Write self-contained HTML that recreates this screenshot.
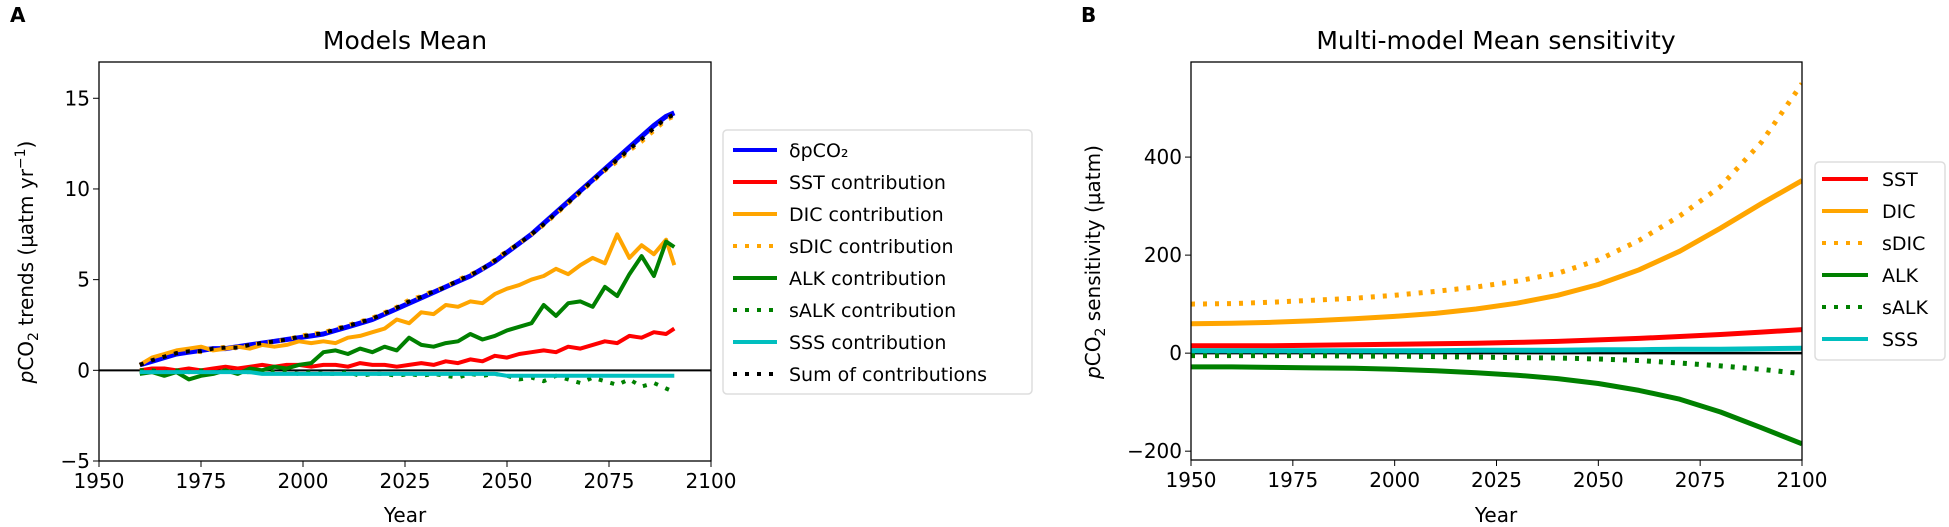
<!DOCTYPE html>
<html><head><meta charset="utf-8"><style>
html,body{margin:0;padding:0;background:#fff;}
svg{display:block;font-family:"DejaVu Sans","Liberation Sans",sans-serif;}
</style></head><body>
<svg id="c" width="1949" height="527" viewBox="0 0 1949 527" xmlns="http://www.w3.org/2000/svg">
<text x="10" y="22" font-size="20" font-weight="bold">A</text>
<text x="1081" y="22" font-size="20" font-weight="bold">B</text>
<text x="405" y="49" font-size="25" text-anchor="middle">Models Mean</text>
<text x="1496" y="49" font-size="25" text-anchor="middle">Multi-model Mean sensitivity</text>
<g id="ga"></g>
<g id="gb"></g>
<text x="405" y="522" font-size="20" text-anchor="middle">Year</text>
<text x="1496" y="522" font-size="20" text-anchor="middle">Year</text>
<text transform="translate(33,262) rotate(-90)" font-size="20" text-anchor="middle"><tspan font-style="italic">p</tspan>CO<tspan font-size="14" dy="5">2</tspan><tspan dy="-5"> trends (µatm yr</tspan><tspan font-size="14" dy="-8">−1</tspan><tspan dy="8">)</tspan></text>
<text transform="translate(1100,262) rotate(-90)" font-size="20" text-anchor="middle"><tspan font-style="italic">p</tspan>CO<tspan font-size="14" dy="5">2</tspan><tspan dy="-5"> sensitivity (µatm)</tspan></text>
</svg>
<script>
// Panel A data (years 1960..2091 step 3)
const yearsA = [1960,1963,1966,1969,1972,1975,1978,1981,1984,1987,1990,1993,1996,1999,2002,2005,2008,2011,2014,2017,2020,2023,2026,2029,2032,2035,2038,2041,2044,2047,2050,2053,2056,2059,2062,2065,2068,2071,2074,2077,2080,2083,2086,2089,2091];
const dpco2 = [0.3,0.5,0.7,0.9,1.0,1.1,1.2,1.2,1.3,1.4,1.5,1.6,1.7,1.8,1.9,2.0,2.2,2.4,2.6,2.8,3.1,3.4,3.7,4.0,4.3,4.6,4.9,5.2,5.6,6.0,6.5,7.0,7.5,8.1,8.7,9.3,9.9,10.5,11.1,11.7,12.3,12.9,13.5,14.0,14.2];
const sstA = [0.0,0.1,0.1,0.0,0.1,0.0,0.1,0.2,0.1,0.2,0.3,0.2,0.3,0.3,0.2,0.3,0.3,0.2,0.4,0.3,0.3,0.2,0.3,0.4,0.3,0.5,0.4,0.6,0.5,0.8,0.7,0.9,1.0,1.1,1.0,1.3,1.2,1.4,1.6,1.5,1.9,1.8,2.1,2.0,2.3];
const dicA = [0.3,0.7,0.9,1.1,1.2,1.3,1.1,1.2,1.3,1.2,1.4,1.3,1.4,1.6,1.5,1.6,1.5,1.8,1.9,2.1,2.3,2.8,2.6,3.2,3.1,3.6,3.5,3.8,3.7,4.2,4.5,4.7,5.0,5.2,5.6,5.3,5.8,6.2,5.9,7.5,6.2,6.9,6.4,7.2,5.8];
const sdicA = [0.3,0.6,0.8,1.0,1.1,1.0,1.2,1.3,1.2,1.4,1.5,1.6,1.7,1.9,2.0,2.1,2.3,2.5,2.7,2.9,3.2,3.5,3.9,4.1,4.4,4.6,5.0,5.3,5.6,6.1,6.6,7.0,7.5,8.0,8.6,9.2,9.8,10.4,11.0,11.5,12.1,12.6,13.2,13.8,14.0];
const alkA = [-0.2,-0.1,-0.3,-0.1,-0.5,-0.3,-0.2,0.0,-0.2,0.1,0.0,0.2,0.1,0.3,0.4,1.0,1.1,0.9,1.2,1.0,1.3,1.1,1.8,1.4,1.3,1.5,1.6,2.0,1.7,1.9,2.2,2.4,2.6,3.6,3.0,3.7,3.8,3.5,4.6,4.1,5.3,6.3,5.2,7.1,6.8];
const salkA = [0.0,0.0,-0.1,0.0,-0.1,0.0,-0.1,0.0,-0.1,-0.1,0.0,-0.1,-0.1,-0.2,-0.1,-0.2,-0.2,-0.1,-0.3,-0.2,-0.2,-0.3,-0.2,-0.3,-0.2,-0.3,-0.4,-0.2,-0.3,-0.2,-0.3,-0.5,-0.4,-0.6,-0.3,-0.5,-0.7,-0.4,-0.6,-0.8,-0.5,-0.9,-0.7,-1.0,-1.2];
const sssA = [-0.1,-0.1,-0.1,-0.1,-0.1,-0.1,-0.1,-0.1,-0.1,-0.1,-0.2,-0.2,-0.2,-0.2,-0.2,-0.2,-0.2,-0.2,-0.2,-0.2,-0.2,-0.2,-0.2,-0.2,-0.2,-0.2,-0.2,-0.2,-0.2,-0.2,-0.3,-0.3,-0.3,-0.3,-0.3,-0.3,-0.3,-0.3,-0.3,-0.3,-0.3,-0.3,-0.3,-0.3,-0.3];
const ticksAx = [1950,1975,2000,2025,2050,2075,2100];
const ticksAy = [-5,0,5,10,15];
const labelsAy = ["−5","0","5","10","15"];

// Panel B data (years 1950..2100 step 10)
const yearsB = [1950,1960,1970,1980,1990,2000,2010,2020,2030,2040,2050,2060,2070,2080,2090,2100];
const sstB = [15,15,15,16,17,18,19,20,22,24,27,30,34,38,43,48];
const dicB = [60,61,63,66,70,75,81,90,102,118,140,170,208,255,305,352];
const sdicB = [100,101,104,108,112,118,126,135,147,163,190,230,280,340,430,550];
const alkB = [-28,-28,-29,-30,-31,-33,-36,-40,-45,-52,-62,-76,-94,-120,-152,-185];
const salkB = [-5,-5,-5,-5,-6,-6,-7,-8,-9,-10,-12,-15,-20,-26,-33,-42];
const sssB = [5,5,5,5,5,5,5,6,6,6,7,7,8,8,9,10];
const ticksBx = [1950,1975,2000,2025,2050,2075,2100];
const ticksBy = [-200,0,200,400];
const labelsBy = ["−200","0","200","400"];

const NS="http://www.w3.org/2000/svg";
function mk(tag,attrs,parent){const e=document.createElementNS(NS,tag);for(const k in attrs)e.setAttribute(k,attrs[k]);parent.appendChild(e);return e;}
function pathD(xs,ys,fx,fy){return xs.map((x,i)=>(i?'L':'M')+fx(x).toFixed(1)+','+fy(ys[i]).toFixed(1)).join(' ');}

// Panel A
const ga=document.getElementById('ga');
const AL=99,AR=711,AT=62,AB=461;
const xA=v=>AL+(v-1950)/150*(AR-AL);
const yA=v=>AT+(17-v)/22*(AB-AT);
const clipA=mk('clipPath',{id:'clA'},ga); mk('rect',{x:AL,y:AT,width:AR-AL,height:AB-AT},clipA);
const la=mk('g',{'clip-path':'url(#clA)'},ga);
let ln=mk('line',{x1:AL,x2:AR,y1:yA(0),y2:yA(0),stroke:'#000','stroke-width':2},la);


const seriesA=[
 [dpco2,'#0000ff',5,null,'series-dpco2'],
 [sstA,'#ff0000',4,null,'series-sst-contribution'],
 [dicA,'#ffa500',4,null,'series-dic-contribution'],
 [sdicA,'#ffa500',4,'4 8','series-sdic-contribution'],
 [alkA,'#008000',4,null,'series-alk-contribution'],
 [salkA,'#008000',4,'4 8','series-salk-contribution'],
 [sssA,'#00bfbf',4,null,'series-sss-contribution'],
 [dpco2.map((v,i)=>(v+sdicA[i])/2),'#000',4,'4 8','series-sum-of-contributions']
];
seriesA.forEach(s=>{
 const p=mk('path',{d:pathD(yearsA,s[0],xA,yA),fill:'none',stroke:s[1],'stroke-width':s[2],'stroke-linejoin':'round'},la);
 if(s[3])p.setAttribute('stroke-dasharray',s[3]);
 
 
});
mk('rect',{x:AL,y:AT,width:AR-AL,height:AB-AT,fill:'none',stroke:'#000','stroke-width':1.3},ga);
ticksAx.forEach(t=>{
 mk('line',{x1:xA(t),x2:xA(t),y1:AB,y2:AB+6,stroke:'#000'},ga);
 const tx=mk('text',{x:xA(t),y:AB+27,'font-size':20,'text-anchor':'middle'},ga);tx.textContent=t;
 
 
});
ticksAy.forEach((t,i)=>{
 mk('line',{x1:AL-6,x2:AL,y1:yA(t),y2:yA(t),stroke:'#000'},ga);
 const tx=mk('text',{x:AL-9,y:yA(t)+7,'font-size':20,'text-anchor':'end'},ga);tx.textContent=labelsAy[i];
 
 
});
// legend A
const legA=mk('g',{},ga);


mk('rect',{x:723,y:130,width:309,height:264,rx:4,fill:'#fff',stroke:'#ddd','stroke-width':1.5},legA);
const legAItems=[['δpCO₂','#0000ff',null],['SST contribution','#ff0000',null],['DIC contribution','#ffa500',null],['sDIC contribution','#ffa500','4 8'],['ALK contribution','#008000',null],['sALK contribution','#008000','4 8'],['SSS contribution','#00bfbf',null],['Sum of contributions','#000','4 8']];
legAItems.forEach((it,i)=>{
 const y=150+i*32;
 const l=mk('line',{x1:733,x2:777,y1:y,y2:y,stroke:it[1],'stroke-width':4},legA);
 if(it[2])l.setAttribute('stroke-dasharray',it[2]);
 const t=mk('text',{x:789,y:y+7,'font-size':19},legA);
 t.textContent=it[0];
 
 
});

// Panel B
const gb=document.getElementById('gb');
const BL=1191,BR=1802,BT=62,BB=460;
const xB=v=>BL+(v-1950)/150*(BR-BL);
const yB=v=>BT+(594-v)/812*(BB-BT);
const clipB=mk('clipPath',{id:'clB'},gb); mk('rect',{x:BL,y:BT,width:BR-BL,height:BB-BT},clipB);
const lb=mk('g',{'clip-path':'url(#clB)'},gb);
ln=mk('line',{x1:BL,x2:BR,y1:yB(0),y2:yB(0),stroke:'#000','stroke-width':2.5},lb);


const seriesB=[
 [sstB,'#ff0000',null,'series-sst'],
 [dicB,'#ffa500',null,'series-dic'],
 [sdicB,'#ffa500','4 8','series-sdic'],
 [alkB,'#008000',null,'series-alk'],
 [salkB,'#008000','4 8','series-salk'],
 [sssB,'#00bfbf',null,'series-sss']
];
seriesB.forEach(s=>{
 const p=mk('path',{d:pathD(yearsB,s[0],xB,yB),fill:'none',stroke:s[1],'stroke-width':5,'stroke-linejoin':'round'},lb);
 if(s[2])p.setAttribute('stroke-dasharray',s[2]);
 
 
});
mk('rect',{x:BL,y:BT,width:BR-BL,height:BB-BT,fill:'none',stroke:'#000','stroke-width':1.3},gb);
ticksBx.forEach(t=>{
 mk('line',{x1:xB(t),x2:xB(t),y1:BB,y2:BB+6,stroke:'#000'},gb);
 const tx=mk('text',{x:xB(t),y:BB+27,'font-size':20,'text-anchor':'middle'},gb);tx.textContent=t;
 
 
});
ticksBy.forEach((t,i)=>{
 mk('line',{x1:BL-6,x2:BL,y1:yB(t),y2:yB(t),stroke:'#000'},gb);
 const tx=mk('text',{x:BL-9,y:yB(t)+7,'font-size':20,'text-anchor':'end'},gb);tx.textContent=labelsBy[i];
 
 
});
const legB=mk('g',{},gb);


mk('rect',{x:1815,y:162,width:130,height:198,rx:4,fill:'#fff',stroke:'#ddd','stroke-width':1.5},legB);
const legBItems=[['SST','#ff0000',null],['DIC','#ffa500',null],['sDIC','#ffa500','4 8'],['ALK','#008000',null],['sALK','#008000','4 8'],['SSS','#00bfbf',null]];
legBItems.forEach((it,i)=>{
 const y=179+i*32;
 const l=mk('line',{x1:1822,x2:1868,y1:y,y2:y,stroke:it[1],'stroke-width':4},legB);
 if(it[2])l.setAttribute('stroke-dasharray',it[2]);
 const t=mk('text',{x:1882,y:y+7,'font-size':19},legB);
 t.textContent=it[0];
 
 
});
</script>
</body></html>
